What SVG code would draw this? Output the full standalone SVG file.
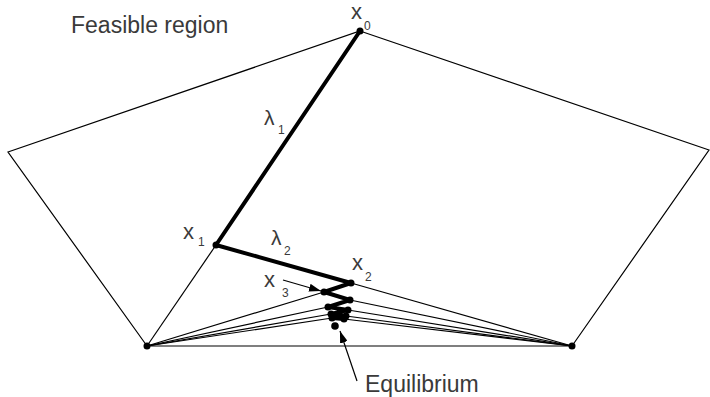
<svg xmlns="http://www.w3.org/2000/svg" width="710" height="397" viewBox="0 0 710 397">
<defs>
<style>
.thin{fill:none;stroke:#000;stroke-width:1.2}
.thick{fill:none;stroke:#000;stroke-width:4;stroke-linejoin:round;stroke-linecap:round}
.dot{fill:#000}
.lbl{font-family:"Liberation Sans",Arial,sans-serif;fill:#3a3a3a}
.big{font-size:22px}
.sub{font-size:12px}
.arr{fill:none;stroke:#000;stroke-width:1.2}
</style>
<marker id="ah" viewBox="0 0 12 8" refX="12" refY="4" markerWidth="12" markerHeight="8" markerUnits="userSpaceOnUse" orient="auto">
<path d="M0,0 L12,4 L0,8 z" fill="#000"/>
</marker>
</defs>
<rect width="710" height="397" fill="#fff"/>
<g id="region">
<polygon class="thin" points="360,31 709,150 572,346 147,346 8,152"/>
</g>
<g id="connectors">
<g class="thin">
<line x1="147" y1="346" x2="216" y2="245"/>
<line x1="147" y1="346" x2="324" y2="292"/>
<line x1="147" y1="346" x2="328" y2="307"/>
<line x1="147" y1="346" x2="331" y2="314"/>
<line x1="147" y1="346" x2="332" y2="318"/>
<line x1="572" y1="346" x2="351" y2="283"/>
<line x1="572" y1="346" x2="350" y2="300"/>
<line x1="572" y1="346" x2="348" y2="310"/>
<line x1="572" y1="346" x2="346" y2="316"/>
<line x1="572" y1="346" x2="344" y2="319"/>
</g>
<polyline class="thick" points="360,31 216,245 351,283 324,292 350,300 328,307 348,310 331,314 346,316 332,318 344,319"/>
<line class="arr" x1="283" y1="280" x2="321" y2="291" marker-end="url(#ah)"/>
<line class="arr" x1="357" y1="381" x2="340" y2="331" marker-end="url(#ah)"/>
</g>
<g id="x0"><circle class="dot" cx="360" cy="31" r="3.5"/>
<text class="lbl big" x="351" y="19">x</text><text class="lbl sub" x="364" y="30">0</text></g>
<g id="x1"><circle class="dot" cx="216" cy="245" r="3.5"/>
<text class="lbl big" x="183" y="239">x</text><text class="lbl sub" x="198" y="246">1</text></g>
<g id="x2"><circle class="dot" cx="351" cy="283" r="3.5"/>
<text class="lbl big" x="352" y="270">x</text><text class="lbl sub" x="365" y="281">2</text></g>
<g id="x3"><circle class="dot" cx="324" cy="292" r="3.5"/>
<text class="lbl big" x="264" y="287">x</text><text class="lbl sub" x="282" y="297">3</text></g>
<g id="zigzag-dots">
<circle class="dot" cx="350" cy="300" r="3.5"/>
<circle class="dot" cx="328" cy="307" r="3.5"/>
<circle class="dot" cx="348" cy="310" r="3.5"/>
<circle class="dot" cx="331" cy="314" r="3.5"/>
<circle class="dot" cx="346" cy="316" r="3.5"/>
<circle class="dot" cx="332" cy="318" r="3.5"/>
<circle class="dot" cx="344" cy="319" r="3.5"/>
</g>
<g id="corners">
<circle class="dot" cx="147" cy="346" r="3.5"/>
<circle class="dot" cx="572" cy="346" r="3.5"/>
</g>
<g id="equilibrium"><circle class="dot" cx="335" cy="326" r="3.8"/>
<text class="lbl" x="365" y="392" font-size="23">Equilibrium</text></g>
<g id="lambda1"><text class="lbl" x="264" y="125" font-size="21">λ</text><text class="lbl sub" x="278" y="134">1</text></g>
<g id="lambda2"><text class="lbl" x="271" y="245" font-size="21">λ</text><text class="lbl sub" x="284" y="255">2</text></g>
<g id="title"><text class="lbl" x="71" y="33" font-size="23">Feasible region</text></g>
</svg>
